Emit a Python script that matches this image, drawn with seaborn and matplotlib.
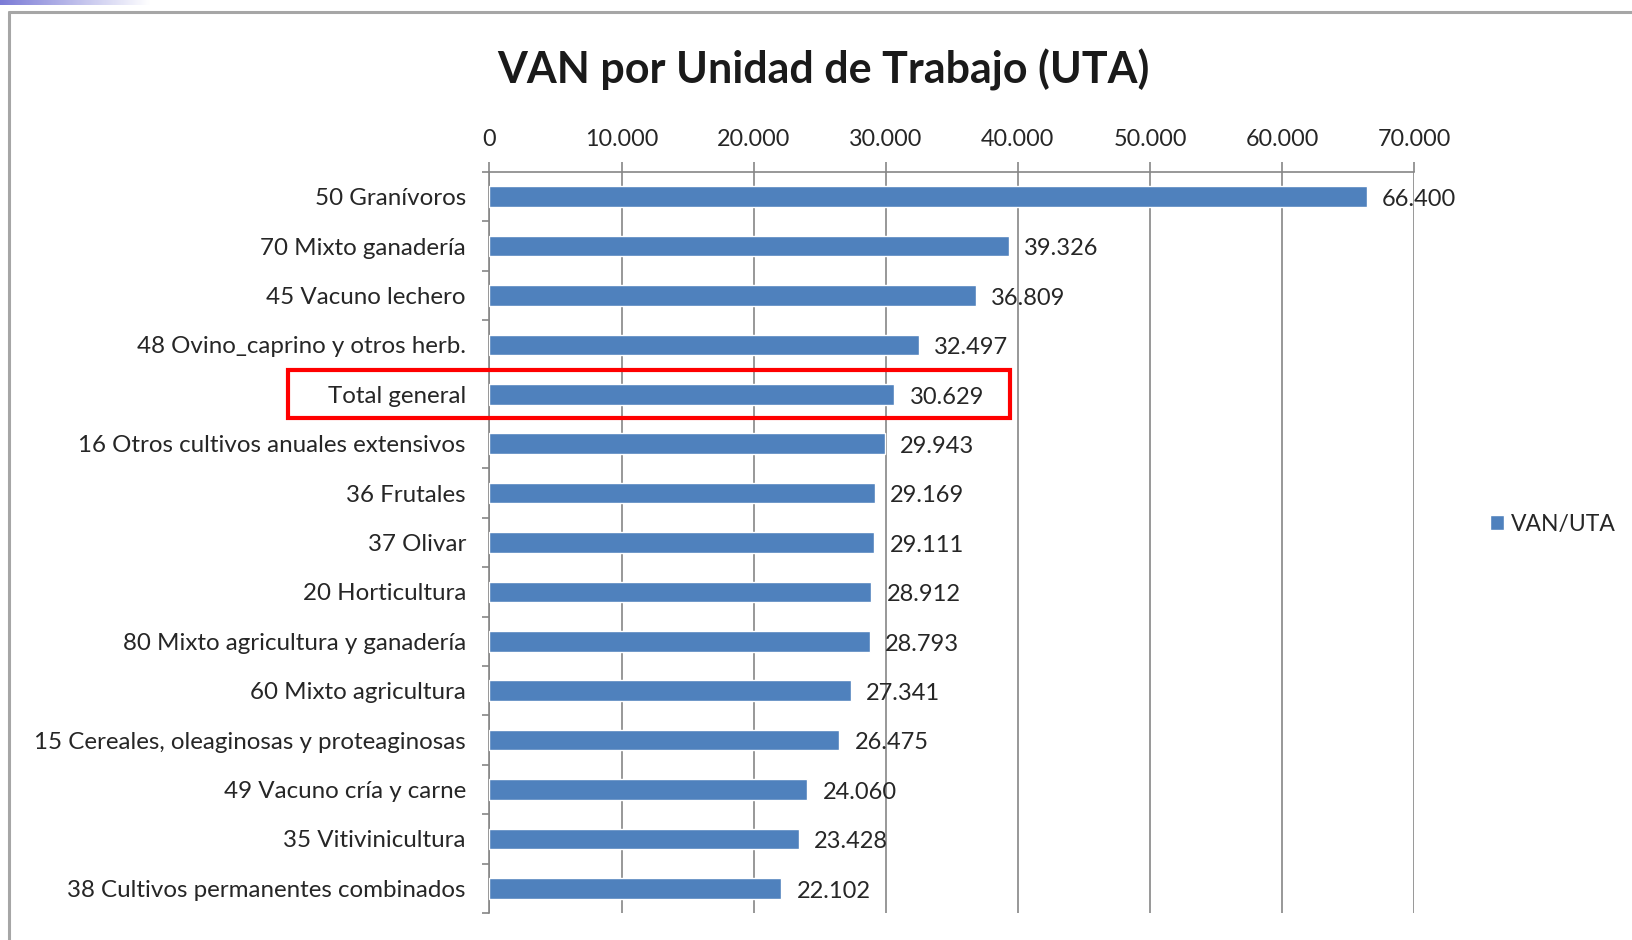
import matplotlib
matplotlib.use("Agg")
import matplotlib.pyplot as plt
import seaborn as sns
import numpy as np
from matplotlib.patches import Rectangle
from matplotlib.lines import Line2D
from matplotlib.ticker import FuncFormatter, FixedLocator

categories = [
    "50 Granívoros",
    "70 Mixto ganadería",
    "45 Vacuno lechero",
    "48 Ovino_caprino y otros herb.",
    "Total general",
    "16 Otros cultivos anuales extensivos",
    "36 Frutales",
    "37 Olivar",
    "20 Horticultura",
    "80 Mixto agricultura y ganadería",
    "60 Mixto agricultura",
    "15 Cereales, oleaginosas y proteaginosas",
    "49 Vacuno cría y carne",
    "35 Vitivinicultura",
    "38 Cultivos permanentes combinados",
]
values = [66400, 39326, 36809, 32497, 30629, 29943, 29169, 29111, 28912,
          28793, 27341, 26475, 24060, 23428, 22102]
x_ticks = [0, 10000, 20000, 30000, 40000, 50000, 60000, 70000]
series_name = "VAN/UTA"
title = "VAN por Unidad de Trabajo (UTA)"
highlight = "Total general"

sns.set_theme(style="white")
plt.rcParams["font.family"] = ["Lato", "DejaVu Sans"]

W, H = 1633, 940
top_px, bot_px = 172, 913
ax = None
fig = plt.figure(figsize=(W / 100, H / 100), dpi=100)
ax = fig.add_axes([489.5 / W, 1 - bot_px / H, (1414.3 - 489.5) / W, (bot_px - top_px) / H])

bar_color = "#4F81BD"
grid_color = "#868686"
text_color = "#262626"

sns.barplot(x=values, y=categories, orient="h", color=bar_color, width=0.42,
            saturation=1, ax=ax, label=series_name, zorder=3)

ax.set_xlim(0, 70000)
ax.set_ylim(len(categories) - 0.5, -0.5)

def fmt(v, pos=None):
    return f"{int(round(v)):,}".replace(",", ".")

ax.xaxis.set_major_locator(FixedLocator(x_ticks))
ax.xaxis.set_major_formatter(FuncFormatter(fmt))
ax.xaxis.tick_top()
ax.tick_params(axis="x", which="major", top=True, bottom=False, length=7, width=1.2,
               color=grid_color, labelsize=16.8, labelcolor=text_color, pad=9)
ax.grid(axis="x", color=grid_color, linewidth=1.2, zorder=0)
ax.set_axisbelow(True)

ax.tick_params(axis="y", which="major", length=0, labelsize=17.4, labelcolor=text_color, pad=17)
ax.set_yticks(np.arange(-0.5, len(categories), 1.0), minor=True)
ax.tick_params(axis="y", which="minor", left=True, length=5, width=1.2, color=grid_color)
ax.set_xlabel("")
ax.set_ylabel("")

for s in ["bottom", "right"]:
    ax.spines[s].set_visible(False)
for s in ["top", "left"]:
    ax.spines[s].set_color(grid_color)
    ax.spines[s].set_linewidth(1.2)

for i, v in enumerate(values):
    ax.annotate(fmt(v), xy=(v, i), xytext=(11, -2), textcoords="offset points",
                ha="left", va="center", fontsize=17, color=text_color, zorder=5)

# highlight box around "Total general"
hi = categories.index(highlight)
trans = matplotlib.transforms.blended_transform_factory(ax.transAxes, ax.transData)
x0 = (288.5 - 489.5) / (1414.3 - 489.5)
x1 = (1010 - 489.5) / (1414.3 - 489.5)
ax.add_patch(Rectangle((x0, hi - 0.49), x1 - x0, 0.96, transform=trans, fill=False,
                       edgecolor="#FF0000", linewidth=3, clip_on=False, zorder=6))

fig.text(823 / W, 1 - 70 / H, title, ha="center", va="center", fontsize=31,
         fontweight="bold", color="#1a1a1a")

leg = ax.legend(loc="center left", bbox_to_anchor=(1490 / W, 1 - 524 / H),
                bbox_transform=fig.transFigure, frameon=False, fontsize=16.5,
                handlelength=0.6, handleheight=0.6, handletextpad=0.3,
                borderaxespad=0, borderpad=0)
for t in leg.get_texts():
    t.set_color(text_color)

# chart frame
fig.add_artist(Line2D([9 / W, 1], [1 - 12 / H, 1 - 12 / H], transform=fig.transFigure,
                      color="#a6a6a6", linewidth=2.2))
fig.add_artist(Line2D([9 / W, 9 / W], [1 - 12 / H, 0], transform=fig.transFigure,
                      color="#a6a6a6", linewidth=2.2))

# decorative gradient strip top-left
gax = fig.add_axes([0, 1 - 5 / H, 150 / W, 5 / H])
grad = np.linspace(0, 1, 256).reshape(1, -1)
cmap = matplotlib.colors.LinearSegmentedColormap.from_list("g", ["#7b7bd6", "#ffffff"])
gax.imshow(grad, aspect="auto", cmap=cmap)
gax.axis("off")

fig.savefig("out.png", dpi=100)
